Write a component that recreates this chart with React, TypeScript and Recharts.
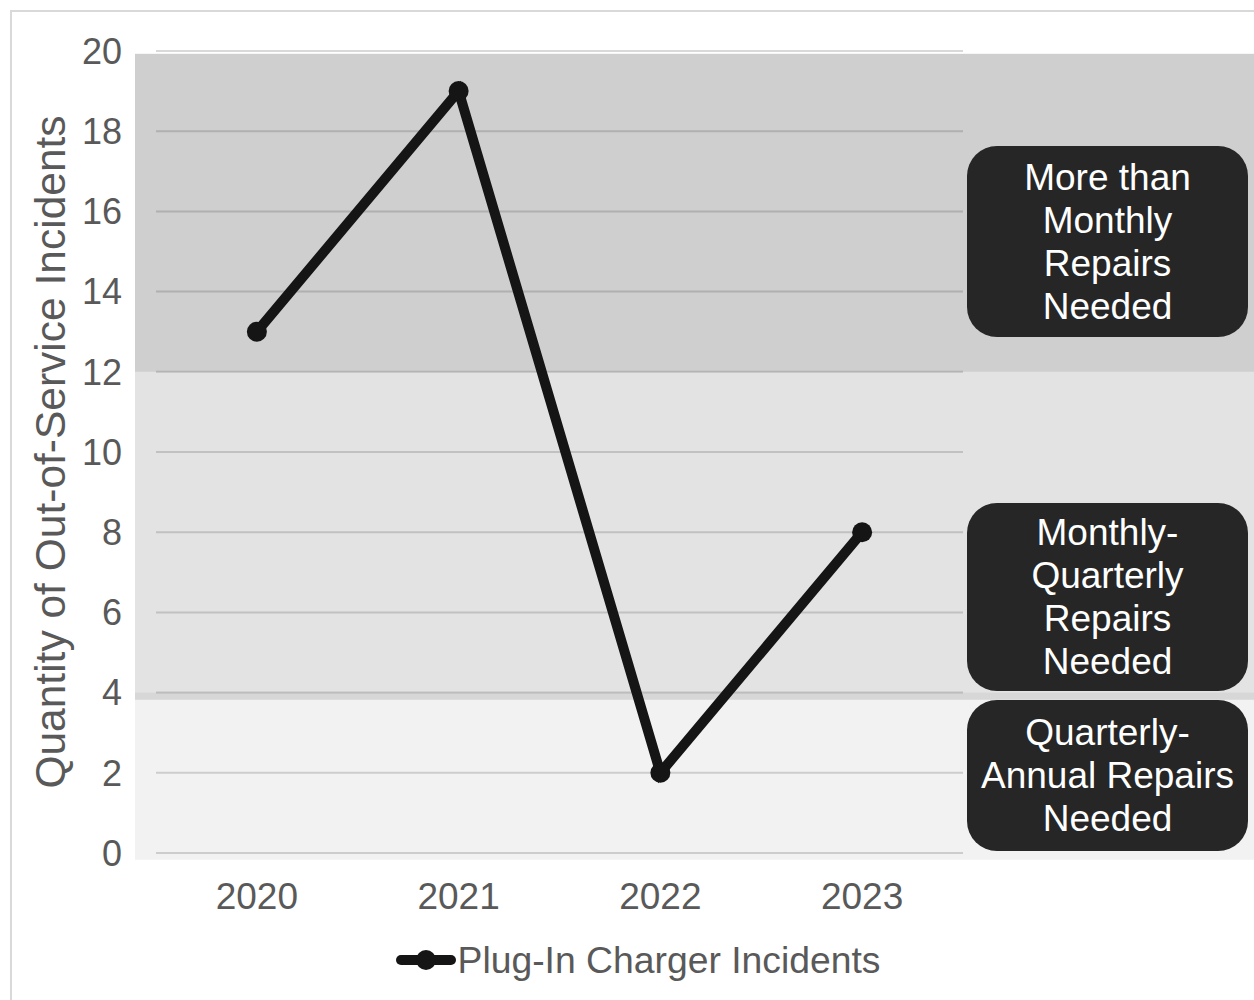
import {
  ComposedChart,
  Line,
  XAxis,
  YAxis,
  CartesianGrid,
  ReferenceArea,
  Legend,
} from "recharts";

const years = ["2020", "2021", "2022", "2023"];
const incidents = [13, 19, 2, 8];
const yTicks = [0, 2, 4, 6, 8, 10, 12, 14, 16, 18, 20];

// repair-frequency zones (low / high values on the y axis)
const zoneLow = [12, 3.82, -0.17];
const zoneHigh = [19.93, 12, 4];
const zoneLabels = [
  ["More than", "Monthly", "Repairs", "Needed"],
  ["Monthly-", "Quarterly", "Repairs", "Needed"],
  ["Quarterly-", "Annual Repairs", "Needed"],
];

const seriesName = "Plug-In Charger Incidents";
const axisTitle = "Quantity of Out-of-Service Incidents";

const data = years.map((year, i) => ({ year, value: incidents[i] }));

const FONT = "'Liberation Sans', Arial, sans-serif";
const TEXT = "#595959";
const LINE = "#151515";
const zoneOpacity = [0.19, 0.11, 0.05];
const boxPos = [
  { top: 146, height: 191 },
  { top: 503, height: 188 },
  { top: 700, height: 151 },
];

const ZoneRect = (props: any) => {
  const { x, y, width, height, fillOpacity } = props;
  // the shaded zones run past the plot on both sides
  return (
    <rect
      x={x - 21}
      y={y}
      width={width + 21 + 300}
      height={height}
      fill="#000"
      fillOpacity={fillOpacity}
    />
  );
};

const LegendContent = () => (
  <div
    style={{
      display: "flex",
      justifyContent: "center",
      alignItems: "center",
      height: 50,
      paddingLeft: 22,
      fontFamily: FONT,
      fontSize: 37.3,
      color: TEXT,
    }}
  >
    <svg width={60} height={24} style={{ marginRight: 2 }}>
      <line x1={5} y1={12} x2={55} y2={12} stroke={LINE} strokeWidth={10} strokeLinecap="round" />
      <circle cx={30} cy={12} r={10} fill={LINE} />
    </svg>
    <span>{seriesName}</span>
  </div>
);

export default function App() {
  return (
    <div
      style={{
        position: "absolute",
        left: 0,
        top: 0,
        width: 1254,
        height: 1000,
        overflow: "hidden",
        background: "#fff",
      }}
    >
      <div
        style={{
          position: "absolute",
          left: 10,
          top: 10,
          width: 1300,
          height: 1100,
          border: "2px solid #d9d9d9",
        }}
      />
      <ComposedChart
        width={1254}
        height={1000}
        data={data}
        margin={{ top: 51, right: 291, bottom: 37, left: 0 }}
        style={{ position: "absolute", left: 0, top: 0 }}
      >
        <CartesianGrid vertical={false} stroke="#d9d9d9" strokeWidth={2} />
        {zoneLow.map((lo, i) => (
          <ReferenceArea
            key={i}
            y1={lo}
            y2={zoneHigh[i]}
            ifOverflow="visible"
            fillOpacity={zoneOpacity[i]}
            shape={<ZoneRect />}
          />
        ))}
        <XAxis
          dataKey="year"
          scale="band"
          axisLine={false}
          tickLine={false}
          tickSize={0}
          tickMargin={30}
          height={60}
          tick={{ fill: TEXT, fontSize: 37, fontFamily: FONT }}
        />
        <YAxis
          domain={[0, 20]}
          ticks={yTicks}
          axisLine={false}
          tickLine={false}
          tickSize={0}
          tickMargin={34}
          width={156}
          tick={{ fill: TEXT, fontSize: 36, fontFamily: FONT }}
          label={{
            value: axisTitle,
            angle: -90,
            position: "center",
            dx: -28,
            fill: TEXT,
            fontSize: 42.5,
            fontFamily: FONT,
          }}
        />
        <Legend
          verticalAlign="bottom"
          content={<LegendContent />}
          wrapperStyle={{ left: 0, width: 1254, top: 935, bottom: "auto" }}
        />
        <Line
          type="linear"
          dataKey="value"
          name={seriesName}
          stroke={LINE}
          strokeWidth={10}
          dot={{ r: 10, fill: LINE, stroke: "none" }}
          activeDot={false}
          isAnimationActive={false}
        />
      </ComposedChart>
      {zoneLabels.map((lines, i) => (
        <div
          key={i}
          style={{
            position: "absolute",
            left: 967,
            width: 281,
            top: boxPos[i].top,
            height: boxPos[i].height,
            background: "#262626",
            borderRadius: 30,
            color: "#fff",
            fontFamily: FONT,
            fontSize: 37,
            lineHeight: "43px",
            display: "flex",
            flexDirection: "column",
            justifyContent: "center",
            alignItems: "center",
            textAlign: "center",
          }}
        >
          {lines.map((l) => (
            <div key={l}>{l}</div>
          ))}
        </div>
      ))}
    </div>
  );
}
